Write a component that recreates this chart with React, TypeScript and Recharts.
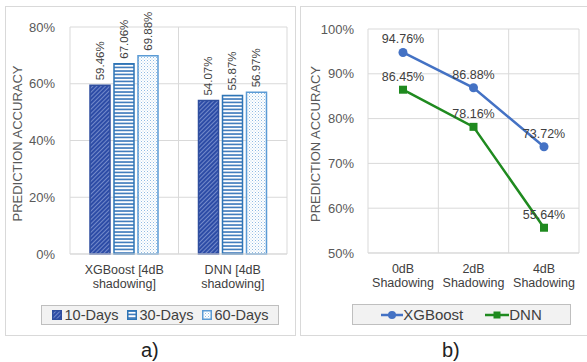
import {
  Bar,
  BarChart,
  CartesianGrid,
  LabelList,
  Line,
  LineChart,
  XAxis,
  YAxis,
} from "recharts";

const barCategories = ["XGBoost [4dB shadowing]", "DNN [4dB shadowing]"];
const tenDays = [59.46, 54.07];
const thirtyDays = [67.06, 55.87];
const sixtyDays = [69.88, 56.97];
const barTicks = [0, 20, 40, 60, 80];

const shadowingLevels = ["0dB Shadowing", "2dB Shadowing", "4dB Shadowing"];
const xgboostAccuracy = [94.76, 86.88, 73.72];
const dnnAccuracy = [86.45, 78.16, 55.64];
const lineTicks = [50, 60, 70, 80, 90, 100];

const FONT = '"Liberation Sans", Arial, sans-serif';
const GRID = "#d9d9d9";
const TICK = "#595959";
const LABEL = "#404040";

const barRows = barCategories.map((category, i) => ({
  category,
  tenDays: tenDays[i],
  thirtyDays: thirtyDays[i],
  sixtyDays: sixtyDays[i],
}));

const lineRows = shadowingLevels.map((level, i) => ({
  level,
  xgboost: xgboostAccuracy[i],
  dnn: dnnAccuracy[i],
}));

const pct = (v: number) => `${v.toFixed(2)}%`;

// splits "XGBoost [4dB shadowing]" into two lines at the last space
function TwoLineTick({ x, y, payload }: any) {
  const text = String(payload.value);
  const cut = text.lastIndexOf(" ");
  const lines = [text.slice(0, cut), text.slice(cut + 1)];
  return (
    <text x={x} y={y} textAnchor="middle" fontSize={12.5} fill={LABEL} fontFamily={FONT}>
      {lines.map((line, i) => (
        <tspan key={i} x={x} dy={i === 0 ? 12 : 14}>
          {line}
        </tspan>
      ))}
    </text>
  );
}

function AxisTitle({ viewBox }: any) {
  const cx = viewBox.x - 13;
  const cy = viewBox.y + viewBox.height / 2 + 3;
  return (
    <text
      x={cx}
      y={cy}
      transform={`rotate(-90 ${cx} ${cy})`}
      textAnchor="middle"
      dominantBaseline="central"
      fontSize={13}
      fill={TICK}
      fontFamily={FONT}
    >
      PREDICTION ACCURACY
    </text>
  );
}

function VerticalValue({ x, y, width, value }: any) {
  const cx = x + width / 2;
  const cy = y - 5;
  return (
    <text
      x={cx}
      y={cy}
      transform={`rotate(-90 ${cx} ${cy})`}
      textAnchor="start"
      dominantBaseline="central"
      fontSize={11.5}
      fill={LABEL}
      fontFamily={FONT}
    >
      {pct(value)}
    </text>
  );
}

function SquareDot({ cx, cy }: any) {
  return <rect x={cx - 4} y={cy - 4} width={8} height={8} fill="#1f8a1f" />;
}

const barSeries = [
  { key: "tenDays", name: "10-Days", fill: "url(#hatchDiag)", stroke: "#2f4e9e" },
  { key: "thirtyDays", name: "30-Days", fill: "url(#hatchHoriz)", stroke: "#2e75b6" },
  { key: "sixtyDays", name: "60-Days", fill: "url(#hatchDots)", stroke: "#5b9bd5" },
];

function BarPanel() {
  return (
    <BarChart
      width={296}
      height={340}
      data={barRows}
      margin={{ top: 27, right: 9, left: 30, bottom: 46 }}
      barGap={4}
      barSize={20}
    >
      <defs>
        <pattern id="hatchDiag" width="3" height="3" patternUnits="userSpaceOnUse" patternTransform="rotate(45)">
          <rect width="3" height="3" fill="#2d4ca6" />
          <line x1="0" y1="0" x2="0" y2="3" stroke="#b8c8ee" strokeWidth="1" />
        </pattern>
        <pattern id="hatchHoriz" width="4" height="3.5" patternUnits="userSpaceOnUse">
          <rect width="4" height="3.5" fill="#ffffff" />
          <line x1="0" y1="1" x2="4" y2="1" stroke="#2e6fb6" strokeWidth="1.5" />
        </pattern>
        <pattern id="hatchDots" width="3" height="3" patternUnits="userSpaceOnUse">
          <rect width="3" height="3" fill="#ffffff" />
          <rect x="0" y="0" width="1" height="1" fill="#8fbbe3" />
          <rect x="1.5" y="1.5" width="1" height="1" fill="#b5d3ee" />
        </pattern>
      </defs>
      <CartesianGrid
        stroke={GRID}
        verticalCoordinatesGenerator={({ offset }: any) => [
          offset.left,
          offset.left + offset.width / 2,
          offset.left + offset.width,
        ]}
      />
      <XAxis
        dataKey="category"
        tick={<TwoLineTick />}
        tickLine={false}
        axisLine={{ stroke: GRID }}
        height={40}
        interval={0}
      />
      <YAxis
        domain={[0, 80]}
        ticks={barTicks}
        tickFormatter={(v) => `${v}%`}
        axisLine={false}
        tickLine={false}
        tickMargin={9}
        width={40}
        tick={{ fontSize: 13, fill: TICK, fontFamily: FONT }}
        label={<AxisTitle />}
      />
      {barSeries.map((s) => (
        <Bar
          key={s.key}
          dataKey={s.key}
          name={s.name}
          fill={s.fill}
          stroke={s.stroke}
          strokeWidth={1.5}
          isAnimationActive={false}
        >
          <LabelList dataKey={s.key} content={<VerticalValue />} />
        </Bar>
      ))}
    </BarChart>
  );
}

function LinePanel() {
  return (
    <LineChart
      width={291}
      height={340}
      data={lineRows}
      margin={{ top: 29, right: 8, left: 32, bottom: 47 }}
    >
      <CartesianGrid
        stroke={GRID}
        verticalCoordinatesGenerator={({ offset }: any) => [
          offset.left,
          offset.left + offset.width / 3,
          offset.left + (2 * offset.width) / 3,
          offset.left + offset.width,
        ]}
      />
      <XAxis
        dataKey="level"
        tick={<TwoLineTick />}
        tickLine={false}
        axisLine={{ stroke: GRID }}
        height={40}
        interval={0}
        padding={{ left: 35, right: 35 }}
      />
      <YAxis
        domain={[50, 100]}
        ticks={lineTicks}
        tickFormatter={(v) => `${v}%`}
        axisLine={false}
        tickLine={false}
        tickMargin={8}
        width={40}
        tick={{ fontSize: 13, fill: TICK, fontFamily: FONT }}
        label={<AxisTitle />}
      />
      <Line
        dataKey="xgboost"
        name="XGBoost"
        stroke="#4472c4"
        strokeWidth={2.5}
        dot={{ r: 4.5, fill: "#4472c4", stroke: "#4472c4", strokeWidth: 0 }}
        isAnimationActive={false}
      >
        <LabelList
          dataKey="xgboost"
          position="top"
          offset={9}
          formatter={(v: any) => pct(Number(v))}
          style={{ fontSize: 12.5, fill: LABEL, fontFamily: FONT }}
        />
      </Line>
      <Line
        dataKey="dnn"
        name="DNN"
        stroke="#1f8a1f"
        strokeWidth={2.5}
        dot={<SquareDot />}
        isAnimationActive={false}
      >
        <LabelList
          dataKey="dnn"
          position="top"
          offset={9}
          formatter={(v: any) => pct(Number(v))}
          style={{ fontSize: 12.5, fill: LABEL, fontFamily: FONT }}
        />
      </Line>
    </LineChart>
  );
}

const legendBox = {
  position: "absolute" as const,
  display: "flex",
  alignItems: "center",
  justifyContent: "center",
  boxSizing: "border-box" as const,
  border: "1px solid #bfbfbf",
  background: "#f2f2f2",
  color: "#404040",
  fontFamily: FONT,
};

export default function App() {
  return (
    <div
      style={{
        position: "absolute",
        left: 0,
        top: 0,
        width: 587,
        height: 362,
        overflow: "hidden",
        background: "#fff",
        fontFamily: FONT,
      }}
    >
      <div style={{ position: "absolute", left: 5, top: 6, width: 291, height: 330, border: `1px solid ${GRID}`, boxSizing: "border-box" }} />
      <div style={{ position: "absolute", left: 300, top: 6, width: 300, height: 330, border: `1px solid ${GRID}`, boxSizing: "border-box" }} />

      <div style={{ position: "absolute", left: 0, top: 0 }}>
        <BarPanel />
      </div>
      <div style={{ position: "absolute", left: 296, top: 0 }}>
        <LinePanel />
      </div>

      <div style={{ ...legendBox, left: 41, top: 305, width: 238, height: 20, fontSize: 14.5, gap: 8 }}>
        {barSeries.map((s) => (
          <span key={s.key} style={{ display: "flex", alignItems: "center", gap: 3 }}>
            <svg width={10} height={10}>
              <rect x={0.75} y={0.75} width={8.5} height={8.5} fill={s.fill} stroke={s.stroke} strokeWidth={1.5} />
            </svg>
            {s.name}
          </span>
        ))}
      </div>

      <div style={{ ...legendBox, left: 352, top: 304, width: 219, height: 21, fontSize: 15, gap: 22 }}>
        <span style={{ display: "flex", alignItems: "center" }}>
          <svg width={22} height={10}>
            <line x1={0} y1={5} x2={22} y2={5} stroke="#4472c4" strokeWidth={2.5} />
            <circle cx={11} cy={5} r={4} fill="#4472c4" />
          </svg>
          XGBoost
        </span>
        <span style={{ display: "flex", alignItems: "center" }}>
          <svg width={24} height={10}>
            <line x1={0} y1={5} x2={24} y2={5} stroke="#1f8a1f" strokeWidth={2.5} />
            <rect x={8.5} y={1.5} width={7} height={7} fill="#1f8a1f" />
          </svg>
          DNN
        </span>
      </div>

      <div style={{ position: "absolute", left: 141, top: 339, fontSize: 20, color: "#222" }}>a)</div>
      <div style={{ position: "absolute", left: 442, top: 339, fontSize: 20, color: "#222" }}>b)</div>
    </div>
  );
}
